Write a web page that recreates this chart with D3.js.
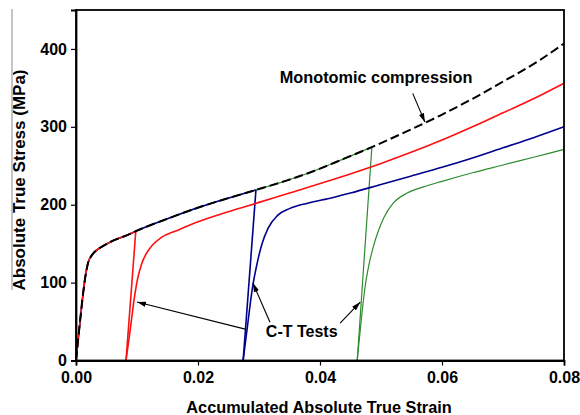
<!DOCTYPE html>
<html>
<head>
<meta charset="utf-8">
<script src="https://cdn.jsdelivr.net/npm/d3@7"></script>
<style>
  html, body { margin: 0; padding: 0; background: #fff; }
  svg { display: block; font-family: "Liberation Sans", Arial, sans-serif; }
</style>
</head>
<body>
<svg id="chart" width="580" height="415"></svg>
<script>
// Monotonic compression curve (strain, MPa)
const monoStrain = [0, 0.0005, 0.001, 0.0015, 0.002, 0.0025, 0.003, 0.004, 0.0056, 0.0087, 0.0098, 0.015, 0.0203, 0.0252, 0.0295, 0.0345, 0.0389, 0.0433, 0.0485, 0.0543, 0.0597, 0.065, 0.070, 0.0761, 0.080];
const monoStress = [0, 38, 75, 106, 126, 134, 139, 145, 152, 162, 166, 182, 197, 209, 219, 231, 243, 257, 274, 294.5, 314.5, 336, 358, 386, 407];

// Compression-tension tests: unloading point, zero-stress point, reverse loading curve
const testNames = ["red", "blue", "green"];
const unloadStrain = [0.0098, 0.0295, 0.0485];
const unloadStress = [166, 219, 274];
const zeroStrain = [0.0082, 0.0274, 0.0461];

const redRevStrain = [0.0082, 0.0089, 0.0095, 0.0101, 0.0108, 0.0115, 0.0125, 0.0140, 0.0166, 0.020, 0.025, 0.030, 0.035, 0.0416, 0.050, 0.0597, 0.065, 0.070, 0.075, 0.080];
const redRevStress = [0, 40, 77, 105, 125, 137, 148, 158, 167, 178, 191, 203, 215, 231, 253, 282, 300, 318, 336, 356];

const blueRevStrain = [0.0274, 0.0282, 0.0289, 0.0297, 0.0305, 0.0315, 0.0330, 0.0350, 0.0380, 0.042, 0.045, 0.050, 0.055, 0.060, 0.065, 0.070, 0.075, 0.080];
const blueRevStress = [0, 50, 92, 125, 150, 170, 186, 195, 202, 209, 215, 226, 237, 248, 260, 273, 286, 300];

const greenRevStrain = [0.0461, 0.0468, 0.0474, 0.0480, 0.0487, 0.0495, 0.0505, 0.0520, 0.0543, 0.057, 0.060, 0.065, 0.070, 0.075, 0.080];
const greenRevStress = [0, 55, 95, 122, 145, 165, 184, 202, 215, 223, 230, 241, 251, 261, 271];

const xTicks = [0, 0.02, 0.04, 0.06, 0.08];
const yTicks = [0, 100, 200, 300, 400];

const svg = d3.select("#chart");
const x = d3.scaleLinear().domain([0, 0.08]).range([76, 564]);
const y = d3.scaleLinear().domain([0, 450]).range([360.5, 10]);

const zip = (a, b) => a.map((v, i) => [v, b[i]]);
const smooth = d3.line().x(d => x(d[0])).y(d => y(d[1])).curve(d3.curveMonotoneX);
const straight = d3.line().x(d => x(d[0])).y(d => y(d[1]));

const colors = { red: "#ff1010", blue: "#00008f", green: "#2e8b2e" };
const widths = { red: 1.6, blue: 1.6, green: 1.2 };
const reverse = {
  red: zip(redRevStrain, redRevStress),
  blue: zip(blueRevStrain, blueRevStress),
  green: zip(greenRevStrain, greenRevStress)
};
const mono = zip(monoStrain, monoStress);

const plot = svg.append("g");

// Test curves (drawn back to front: green, blue, red)
testNames.slice().reverse().forEach(name => {
  const i = testNames.indexOf(name);
  const loading = mono.filter(d => d[0] < unloadStrain[i]).concat([[unloadStrain[i], unloadStress[i]]]);
  plot.append("path").attr("d", smooth(loading))
    .attr("fill", "none").attr("stroke", colors[name]).attr("stroke-width", widths[name]);
  plot.append("path").attr("d", straight([[unloadStrain[i], unloadStress[i]], [zeroStrain[i], 0]]))
    .attr("fill", "none").attr("stroke", colors[name]).attr("stroke-width", widths[name]);
  plot.append("path").attr("d", smooth(reverse[name]))
    .attr("fill", "none").attr("stroke", colors[name]).attr("stroke-width", widths[name]);
});

// Monotonic compression (dashed)
plot.append("path").attr("d", smooth(mono))
  .attr("fill", "none").attr("stroke", "#000").attr("stroke-width", 2)
  .attr("stroke-dasharray", "9,4");

// Frame
svg.append("rect").attr("x", x(0)).attr("y", y(450))
  .attr("width", x(0.08) - x(0)).attr("height", y(0) - y(450))
  .attr("fill", "none").attr("stroke", "#000").attr("stroke-width", 1.8);

// Axes
const xAxis = svg.append("g").attr("transform", `translate(0,${y(0)})`)
  .call(d3.axisBottom(x).tickValues(xTicks).tickFormat(d3.format(".2f")).tickSize(5).tickPadding(6));
const yAxis = svg.append("g").attr("transform", `translate(${x(0)},0)`)
  .call(d3.axisLeft(y).tickValues(yTicks).tickSize(5).tickPadding(4));
[xAxis, yAxis].forEach(g => {
  g.select(".domain").attr("stroke", "#000").attr("stroke-width", 1.8);
  g.selectAll(".tick line").attr("stroke", "#000").attr("stroke-width", 1.2);
  g.selectAll(".tick text").attr("fill", "#000")
    .style("font-family", "'Liberation Sans', Arial, sans-serif")
    .style("font-size", "16px").style("font-weight", "bold");
});

// Axis titles
svg.append("text").attr("x", 319).attr("y", 413).attr("text-anchor", "middle")
  .style("font-size", "16.3px").style("font-weight", "bold")
  .text("Accumulated Absolute True Strain");
svg.append("text").attr("transform", "translate(25,180) rotate(-90)").attr("text-anchor", "middle")
  .style("font-size", "17px").style("font-weight", "bold")
  .text("Absolute True Stress (MPa)");
svg.append("line").attr("x1", 12).attr("x2", 12).attr("y1", 9).attr("y2", 290)
  .attr("stroke", "#8a8a8a").attr("stroke-width", 1);

// Annotations
svg.append("defs").append("marker").attr("id", "head")
  .attr("viewBox", "0 0 10 6").attr("refX", 10).attr("refY", 3)
  .attr("markerWidth", 9).attr("markerHeight", 6).attr("markerUnits", "userSpaceOnUse")
  .attr("orient", "auto")
  .append("path").attr("d", "M0,0 L10,3 L0,6 Z").attr("fill", "#000");

const arrowFrom = [[0.0279, 40], [0.0318, 49], [0.0433, 48], [0.0552, 343]];
const arrowTo = [[0.0100, 75], [0.0290, 99.5], [0.0466, 75], [0.0572, 306]];
arrowFrom.forEach((f, i) => {
  svg.append("line")
    .attr("x1", x(f[0])).attr("y1", y(f[1]))
    .attr("x2", x(arrowTo[i][0])).attr("y2", y(arrowTo[i][1]))
    .attr("stroke", "#000").attr("stroke-width", 1.1)
    .attr("marker-end", "url(#head)");
});

svg.append("text").attr("x", x(0.037)).attr("y", y(30)).attr("text-anchor", "middle")
  .style("font-size", "16px").style("font-weight", "bold").text("C-T Tests");
svg.append("text").attr("x", x(0.0334)).attr("y", y(356))
  .style("font-size", "16.3px").style("font-weight", "bold").text("Monotomic compression");
</script>
</body>
</html>
